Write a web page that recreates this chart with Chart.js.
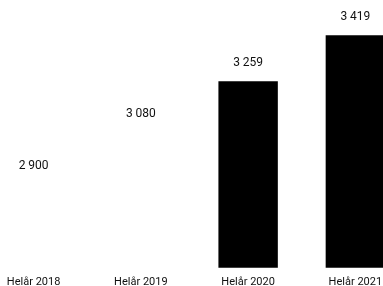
<!DOCTYPE html>
<html>
<head>
<meta charset="utf-8">
<script src="https://cdn.jsdelivr.net/npm/chart.js@4/dist/chart.umd.min.js"></script>
<style>
  html, body { margin: 0; padding: 0; background: #fff; overflow: hidden; }
  #wrap { position: absolute; left: -20px; top: 0; width: 429px; height: 299px; }
</style>
</head>
<body>
<div id="wrap"><canvas id="chart" width="429" height="299"></canvas></div>
<script>
var categories = ['Helår 2018', 'Helår 2019', 'Helår 2020', 'Helår 2021'];
var values = [2900, 3080, 3259, 3419];
var barColors = ['#ffffff', '#ffffff', '#000000', '#000000'];

function fmt(v) {
    return String(v).replace(/\B(?=(\d{3})+(?!\d))/g, ' ');
}

// Draw the value above each bar.
var valueLabels = {
    id: 'valueLabels',
    afterDatasetsDraw: function(chart) {
        var ctx = chart.ctx;
        var meta = chart.getDatasetMeta(0);
        ctx.save();
        ctx.font = '12px Roboto';
        ctx.fillStyle = '#111';
        ctx.textAlign = 'center';
        ctx.textBaseline = 'middle';
        meta.data.forEach(function(bar, i) {
            ctx.fillText(fmt(values[i]), bar.x, bar.y - 18);
        });
        ctx.restore();
    }
};

new Chart(document.getElementById('chart'), {
    type: 'bar',
    data: {
        labels: categories,
        datasets: [{
            data: values,
            backgroundColor: barColors,
            borderWidth: 0,
            categoryPercentage: 1,
            barPercentage: 0.554
        }]
    },
    options: {
        responsive: false,
        animation: false,
        layout: {padding: {top: 0, bottom: 2, left: 0, right: 0}},
        plugins: {legend: {display: false}, tooltip: {enabled: false}},
        scales: {
            x: {
                grid: {display: false, drawTicks: false},
                border: {display: false},
                ticks: {color: '#111', font: {family: 'Roboto', size: 11}, padding: 8}
            },
            y: {
                display: false,
                min: 2608,
                max: 3542
            }
        }
    },
    plugins: [valueLabels]
});
</script>
</body>
</html>
